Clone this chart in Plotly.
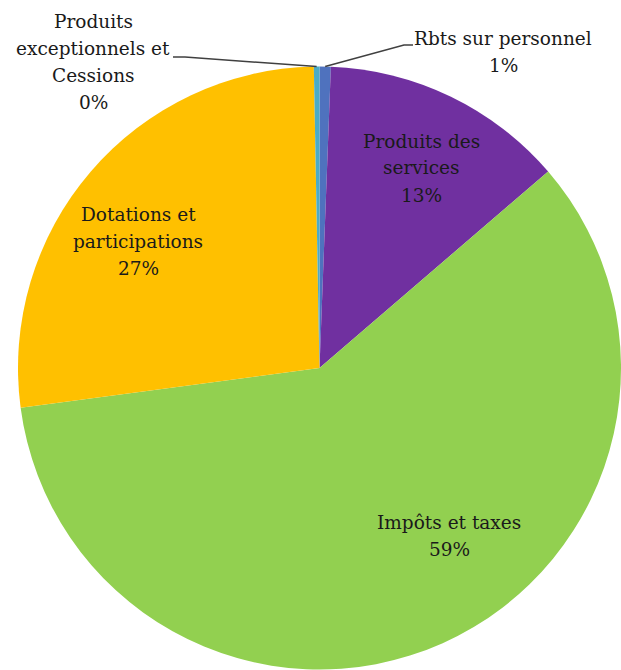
import math
import plotly.graph_objects as go

# Répartition des recettes de fonctionnement (en % du total)
categories = [
    "Rbts sur personnel",
    "Produits des services",
    "Impôts et taxes",
    "Dotations et participations",
    "Produits exceptionnels et Cessions",
]
values = [0.6, 13.1, 59.2, 26.8, 0.3]
colors = ["#4F72BE", "#7030A0", "#92D050", "#FFC000", "#4BACC6"]

# Label text lines (Excel-style wrapping)
label_lines = [
    ["Rbts sur personnel"],
    ["Produits des", "services"],
    ["Impôts et taxes"],
    ["Dotations et", "participations"],
    ["Produits", "exceptionnels et", "Cessions"],
]

W, H = 621, 670
FONT = "DejaVu Serif"
FONT_SIZE = 18.5
LINE_GAP = 27  # pixels between label lines

# Pie placement in pixels
dom_x = (18, 621)
dom_y = (66, 670)
cx = (dom_x[0] + dom_x[1]) / 2
cy = (dom_y[0] + dom_y[1]) / 2
r = min(dom_x[1] - dom_x[0], dom_y[1] - dom_y[0]) / 2

# label centres (pixels) and leader line anchors for the outside labels
label_pos = [(503, 52), (421, 168), (449, 536), (138, 241), (93, 62)]
leader_start = {0: [(413, 45), (404, 45)], 4: [(173, 57), (185, 57)]}


def px(x):
    return x / W


def py(y):
    return 1 - y / H


fig = go.Figure(
    go.Pie(
        labels=categories,
        values=values,
        sort=False,
        direction="clockwise",
        rotation=0,
        marker=dict(colors=colors, line=dict(width=0)),
        textinfo="none",
        hoverinfo="label+percent",
        showlegend=False,
        domain=dict(x=[px(dom_x[0]), px(dom_x[1])], y=[py(dom_y[1]), py(dom_y[0])]),
    )
)

total = sum(values)
cum = 0.0
annotations = []
shapes = []
for i, (cat, v) in enumerate(zip(categories, values)):
    pct = int(v / total * 100 + 0.5)
    mid = (cum + v / 2) / total * 2 * math.pi
    cum += v
    lines = label_lines[i] + [f"{pct}%"]
    lx, ly = label_pos[i]
    n = len(lines)
    for k, line in enumerate(lines):
        yk = ly + (k - (n - 1) / 2) * LINE_GAP
        annotations.append(
            dict(
                x=px(lx), y=py(yk), xref="paper", yref="paper",
                text=line, showarrow=False,
                xanchor="center", yanchor="middle", align="center",
                font=dict(family=FONT, size=FONT_SIZE, color="#1a1a1a"),
            )
        )
    if i in leader_start:
        ex = cx + r * math.sin(mid)
        ey = cy - r * math.cos(mid)
        pts = leader_start[i] + [(ex, ey)]
        path = "M " + " L ".join(f"{px(a):.5f},{py(b):.5f}" for a, b in pts)
        shapes.append(
            dict(type="path", path=path, xref="paper", yref="paper",
                 line=dict(color="#404040", width=1.5))
        )

fig.update_layout(
    width=W, height=H,
    margin=dict(l=0, r=0, t=0, b=0),
    paper_bgcolor="white", plot_bgcolor="white",
    font=dict(family=FONT),
    annotations=annotations,
    shapes=shapes,
)

fig.write_html("out.html")
